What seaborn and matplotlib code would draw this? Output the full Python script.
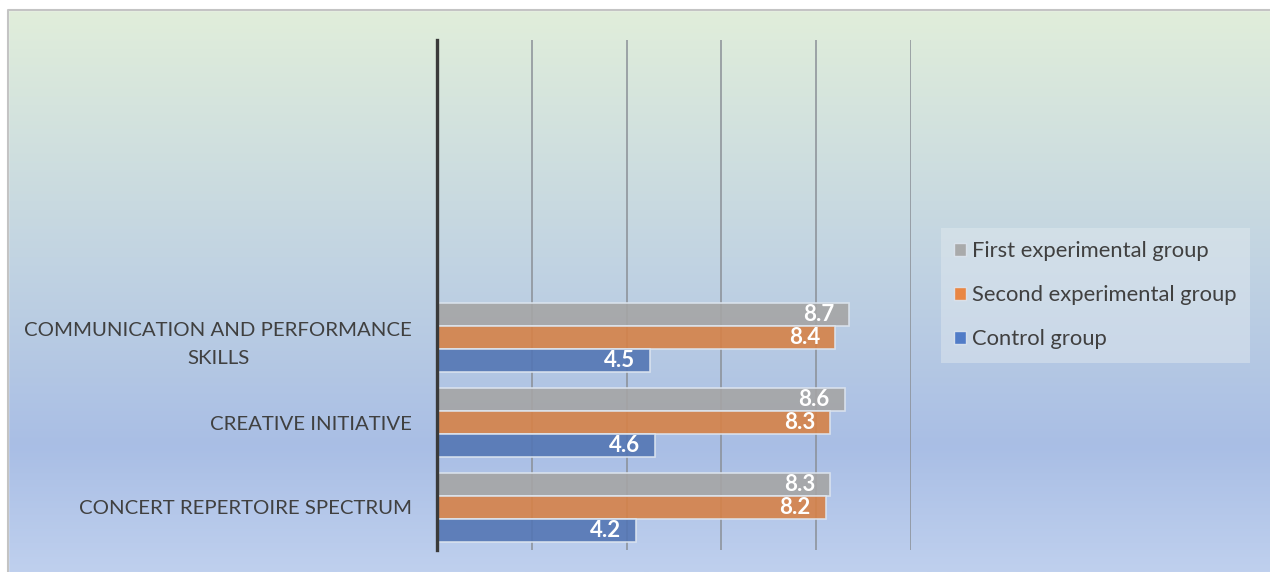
import numpy as np
import pandas as pd
import matplotlib.pyplot as plt
import matplotlib.patches as mpatches
from matplotlib.colors import LinearSegmentedColormap
import seaborn as sns

# Data
categories = ["COMMUNICATION AND PERFORMANCE\nSKILLS", "CREATIVE INITIATIVE", "CONCERT REPERTOIRE SPECTRUM"]
groups = ["First experimental group", "Second experimental group", "Control group"]
first_exp = [8.7, 8.6, 8.3]
second_exp = [8.4, 8.3, 8.2]
control = [4.5, 4.6, 4.2]
colors = ["#a5a5a5", "#ed7d31", "#4472c4"]

df = pd.DataFrame({
    "skill": categories * 3,
    "group": [groups[0]] * 3 + [groups[1]] * 3 + [groups[2]] * 3,
    "score": first_exp + second_exp + control,
})

sns.set_style("white")
plt.rcParams["font.family"] = ["Lato", "DejaVu Sans"]

fig = plt.figure(figsize=(12.7, 5.72), dpi=100)

# gradient background
bg = fig.add_axes([0, 0, 1, 1], zorder=-5)
cmap = LinearSegmentedColormap.from_list(
    "bg", [(0, "#e2efda"), (0.45, "#c2d4e2"), (0.78, "#a9bee5"), (1.0, "#bfd0ee")])
grad = np.linspace(0, 1, 256).reshape(-1, 1)
bg.imshow(grad, aspect="auto", cmap=cmap, extent=[0, 1, 0, 1], origin="upper")
bg.set_xlim(0, 1)
bg.set_ylim(0, 1)
bg.axis("off")
# white strip + border frame
bg.add_patch(mpatches.Rectangle((0, 1 - 10 / 572), 1, 10 / 572, color="white", zorder=2))
bg.add_patch(mpatches.Rectangle((0, 0), 8 / 1270, 1, color="white", zorder=2))
bg.plot([8 / 1270, 8 / 1270, 1], [0, 1 - 10 / 572, 1 - 10 / 572], color="#c4c4c4", lw=1.5, zorder=3)

ax = fig.add_axes([437 / 1270, 22 / 572, (911 - 437) / 1270, (532 - 22) / 572])
ax.set_facecolor("none")

sns.barplot(data=df, y="skill", x="score", hue="group", hue_order=groups,
            palette=colors, orient="h", width=0.82, alpha=0.9,
            edgecolor="#dde5ef", linewidth=1.2, ax=ax, legend=False, zorder=2)

ax.set_xlim(0, 10)
ax.set_ylim(2.5, -3.5)
ax.set_xticks([0, 2, 4, 6, 8, 10])
ax.set_xticklabels([])
ax.tick_params(axis="x", length=0)
ax.tick_params(axis="y", length=0, pad=18, labelsize=14.7, labelcolor="#404040")
for lbl in ax.get_yticklabels():
    lbl.set_multialignment("center")
    lbl.set_linespacing(1.75)
ax.grid(axis="x", color="#8a8f96", linewidth=1.1, zorder=0)
ax.set_axisbelow(True)
ax.set_xlabel("")
ax.set_ylabel("")
for s in ["top", "right", "bottom"]:
    ax.spines[s].set_visible(False)
ax.spines["left"].set_color("#3a3a3a")
ax.spines["left"].set_linewidth(2.4)
ax.spines["left"].set_zorder(5)

for cont in ax.containers:
    texts = ax.bar_label(cont, fmt="%.1f", padding=-11, color="white",
                         fontsize=16, fontweight="bold")
    for t in texts:
        t.set_ha("right")

handles = [mpatches.Patch(facecolor=c, alpha=0.9, edgecolor="#dde5ef") for c in colors]
leg = fig.legend(handles, groups, loc="upper left", bbox_to_anchor=(941 / 1270, 1 - 228 / 572),
                 frameon=True, fontsize=15.8, labelcolor="#404040", handlelength=0.55,
                 handleheight=0.55, handletextpad=0.25, labelspacing=1.1,
                 borderpad=0.6, borderaxespad=0)
leg.get_frame().set_facecolor("#e4ebf0")
leg.get_frame().set_alpha(0.45)
leg.get_frame().set_edgecolor("none")
leg.get_frame().set_boxstyle("square", pad=0)

fig.savefig("out.png", dpi=100)
